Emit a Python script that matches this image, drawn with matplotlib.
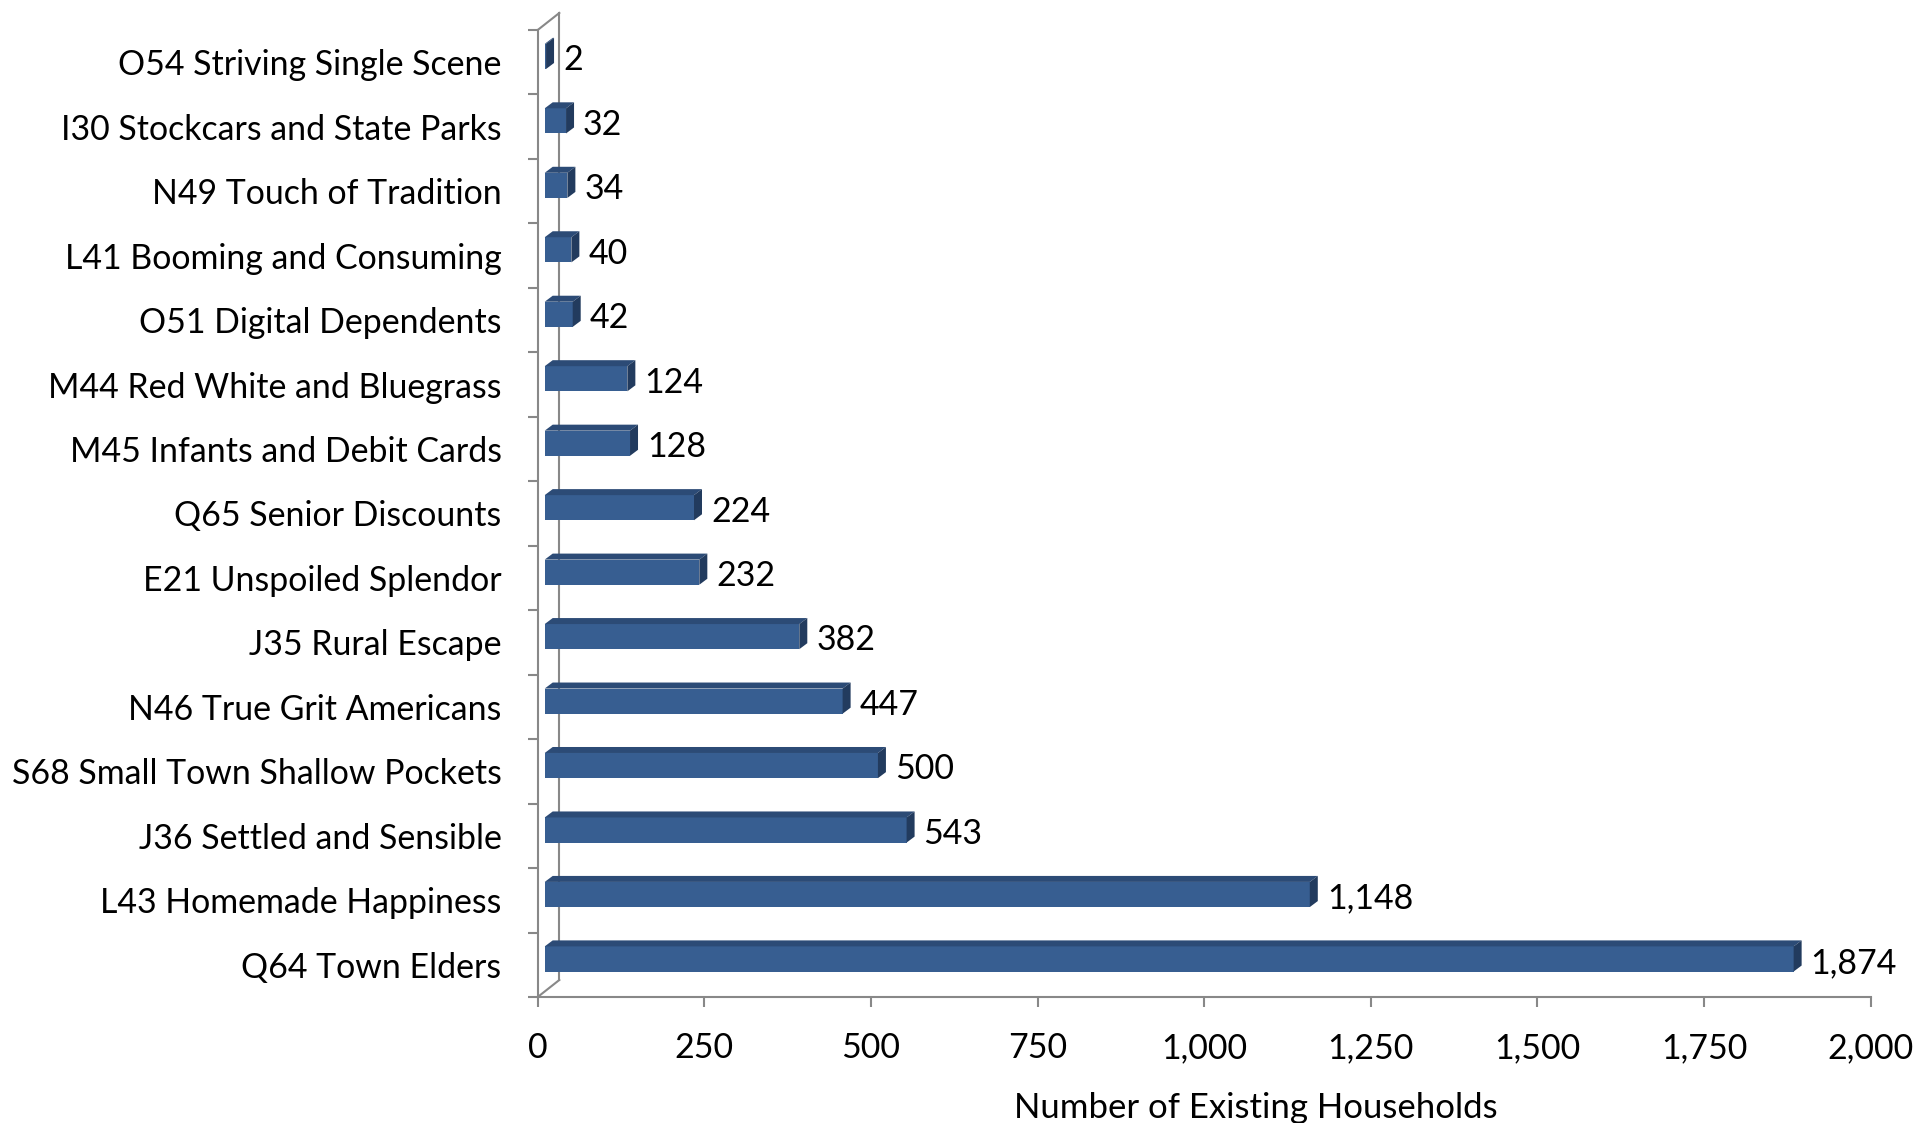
import matplotlib
matplotlib.use("Agg")
import matplotlib.pyplot as plt
from matplotlib.patches import Polygon
from matplotlib.ticker import FuncFormatter
import numpy as np

# segments listed bottom to top
segments = [
    "Q64 Town Elders",
    "L43 Homemade Happiness",
    "J36 Settled and Sensible",
    "S68 Small Town Shallow Pockets",
    "N46 True Grit Americans",
    "J35 Rural Escape",
    "E21 Unspoiled Splendor",
    "Q65 Senior Discounts",
    "M45 Infants and Debit Cards",
    "M44 Red White and Bluegrass",
    "O51 Digital Dependents",
    "L41 Booming and Consuming",
    "N49 Touch of Tradition",
    "I30 Stockcars and State Parks",
    "O54 Striving Single Scene",
]
households = [1874, 1148, 543, 500, 447, 382, 232, 224, 128, 124, 42, 40, 34, 32, 2]
x_ticks = [0, 250, 500, 750, 1000, 1250, 1500, 1750, 2000]

plt.rcParams['font.family'] = ['Lato', 'DejaVu Sans']

FRONT = '#375E91'
TOP = '#2C4B76'
SIDE = '#223B5E'
GRID = '#888888'

fig = plt.figure(figsize=(19.17, 11.23), dpi=100)
ax = fig.add_axes([0.2805, 0.1122, 0.6953, 0.8611])
ax.set_xlim(0, 2000)
ax.set_ylim(-0.5, len(segments) - 0.5)

# pseudo-3d offsets in data units
fx, fy = 10.5, 0.09      # front face shift from the axis plane
dx, dy = 12.0, 0.093     # bar depth
wx, wy = 32.4, 0.264     # wall depth
h = 0.39

y = np.arange(len(segments))
ax.barh(y + fy, households, left=fx, height=h, color=FRONT, zorder=3)
for yi, v in zip(y, households):
    x0, x1 = fx, fx + v
    yb, yt = yi + fy - h / 2, yi + fy + h / 2
    ax.add_patch(Polygon([(x0, yt), (x1, yt), (x1 + dx, yt + dy), (x0 + dx, yt + dy)],
                         closed=True, color=TOP, lw=0, zorder=3))
    ax.add_patch(Polygon([(x1, yb), (x1 + dx, yb + dy), (x1 + dx, yt + dy), (x1, yt)],
                         closed=True, color=SIDE, lw=0, zorder=3))
    ax.text(x1 + dx + 13.5, yi + fy - 0.06, f"{v:,}", va='center', ha='left', fontsize=24.5)

# side wall
lo, hi = -0.5, len(segments) - 0.5
ax.plot([0, wx], [lo, lo + wy], color=GRID, lw=1.5, clip_on=False, zorder=2)
ax.plot([0, wx], [hi, hi + wy], color=GRID, lw=1.5, clip_on=False, zorder=2)
ax.plot([wx, wx], [lo + wy, hi + wy], color=GRID, lw=1.5, clip_on=False, zorder=2)

for s in ['top', 'right']:
    ax.spines[s].set_visible(False)
for s in ['left', 'bottom']:
    ax.spines[s].set_color(GRID)
    ax.spines[s].set_linewidth(1.5)

ax.set_yticks(y)
ax.set_yticklabels(segments, fontsize=24.4)
ax.set_yticks(np.arange(len(segments) + 1) - 0.5, minor=True)
ax.tick_params(axis='y', which='major', length=0, pad=26)
ax.tick_params(axis='y', which='minor', length=7.5, width=1.5, color=GRID)

ax.set_xticks(x_ticks)
ax.xaxis.set_major_formatter(FuncFormatter(lambda v, p: f"{int(v):,}"))
ax.tick_params(axis='x', length=7.5, width=1.5, color=GRID, labelsize=24.4, pad=18)

fig.text(1256 / 1917, 1 - 1108 / 1123, "Number of Existing Households",
         ha='center', va='center', fontsize=25)

fig.savefig("out.png", dpi=100)
